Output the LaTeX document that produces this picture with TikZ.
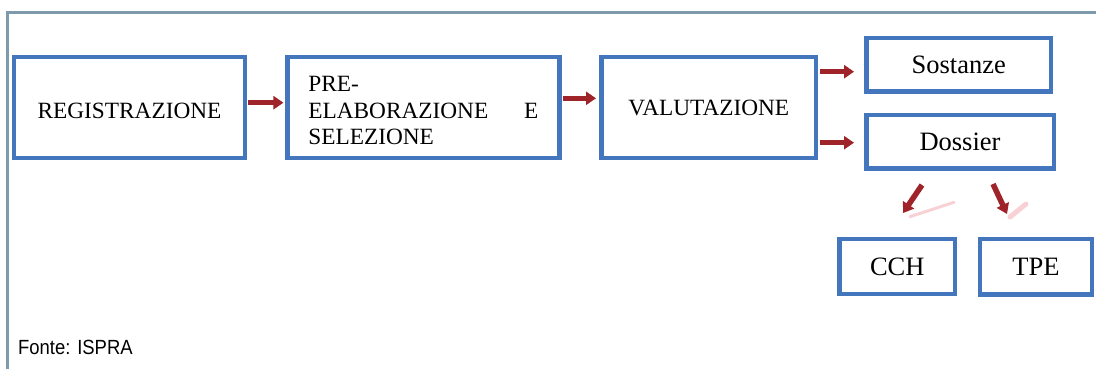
\documentclass[tikz,border=0pt]{standalone}
\usepackage{fontspec}
\setmainfont{Liberation Serif}
\setsansfont{Liberation Sans}
\usetikzlibrary{arrows.meta}
\definecolor{boxblue}{RGB}{68,118,190}
\definecolor{arrred}{RGB}{158,36,42}
\definecolor{framegray}{RGB}{125,155,172}
\definecolor{glarepink}{RGB}{242,178,184}

\begin{document}
\begin{tikzpicture}[x=1pt,y=-1pt,
  box/.style={draw=boxblue,line width=4.5pt,inner sep=0pt,font=\fontsize{23.3}{26.5}\selectfont},
  bigbox/.style={box,font=\fontsize{26.5}{30}\selectfont},
  arr/.style={arrred,line width=5.5pt,-{Triangle[length=10pt,width=13pt]}},
  glare/.style={glarepink,line width=3pt,line cap=round,opacity=.6}]
\useasboundingbox (0,0) rectangle (1096,369);
\draw[framegray,line width=2.5pt] (7.3,369) |- (1096,12.3);
\node[box,minimum width=231pt,minimum height=100.5pt] (reg) at (129.5,107.5) {\rule{0pt}{21.5pt}REGISTRAZIONE};
\node[box,minimum width=272pt,minimum height=100.5pt,text width=230pt,align=left] (pre) at (423.4,107.5)
  {\rule{0pt}{22pt}PRE-\\\makebox[230pt][l]{ELABORAZIONE\hfill E}\\SELEZIONE};
\node[box,minimum width=214.5pt,minimum height=100.5pt] (val) at (708.8,107.5) {VALUTAZIONE};
\node[bigbox,minimum width=184.8pt,minimum height=53.5pt] (sost) at (958.7,65) {Sostanze};
\node[bigbox,minimum width=187.5pt,minimum height=53.5pt] (doss) at (960,141.7) {Dossier};
\node[bigbox,minimum width=115.5pt,minimum height=54.8pt] (cch) at (897.3,266.4) {CCH};
\node[bigbox,minimum width=111.8pt,minimum height=55.5pt] (tpe) at (1035.9,266.7) {TPE};
\node[anchor=base west,inner sep=0pt,xscale=.9,font=\sffamily\fontsize{20.5}{24}\selectfont] (src) at (18,354) {Fonte: ISPRA};
\draw[arr,shorten <=1pt,shorten >=1.7pt] ([yshift=4.8pt]reg.east) -- ([yshift=4.8pt]pre.west);
\draw[arr,shorten <=1pt,shorten >=3.3pt] ([yshift=9.2pt]pre.east) -- ([yshift=9.2pt]val.west);
\draw[arr,shorten <=1.7pt,shorten >=10pt] ([yshift=35.8pt]val.east) -- ([yshift=-6.7pt]sost.west);
\draw[arr,shorten <=1.7pt,shorten >=10pt] ([yshift=-35.2pt]val.east) -- ([yshift=-1pt]doss.west);
\draw[arr] ([xshift=-38pt,yshift=-14.3pt]doss.south) -- ([xshift=5.7pt,yshift=23.7pt]cch.north);
\draw[arr] ([xshift=33pt,yshift=-13.3pt]doss.south) -- ([xshift=-28.9pt,yshift=22.7pt]tpe.north);
\draw[glare] (910,216.7) -- (954,202.3);
\draw[glare,line width=5pt] (1010,217) -- (1026,204);
\end{tikzpicture}
\end{document}
